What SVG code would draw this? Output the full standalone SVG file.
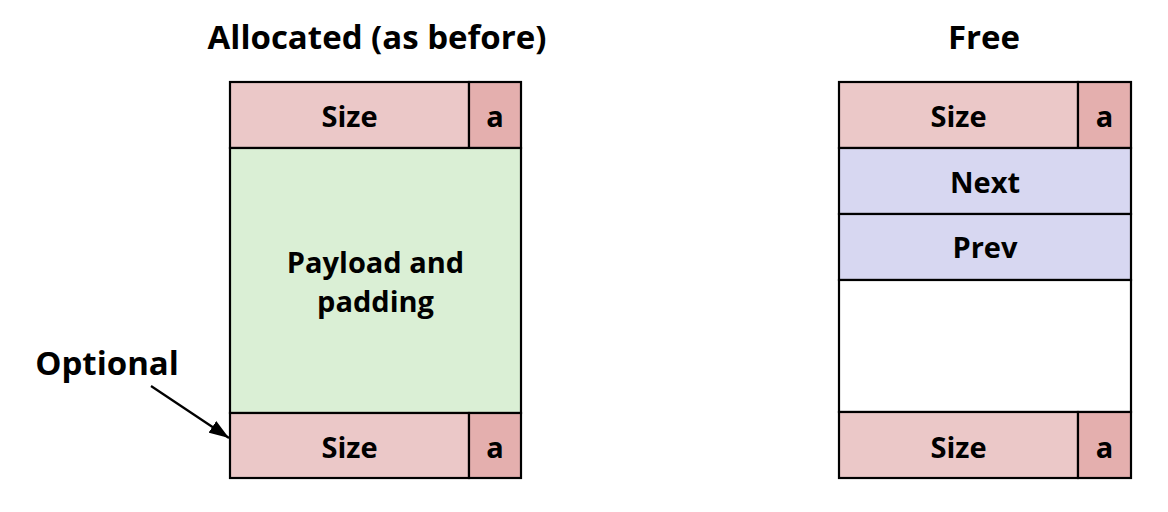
<svg xmlns="http://www.w3.org/2000/svg" width="1168" height="512" viewBox="0 0 1168 512">
<defs>
<style>
.t{font-family:"Open Sans","Liberation Sans",sans-serif;font-weight:bold;fill:#000;text-anchor:middle;dominant-baseline:central}
.h{font-size:33px}
.c{font-size:29px}
.b{stroke:#000;stroke-width:2.2}
.sz{fill:#EBC8C8}
.ab{fill:#E4AFAE}
.pl{fill:#DAEFD5}
.nx{fill:#D7D7F1}
.wh{fill:#FFFFFF}
</style>
<marker id="ah2" viewBox="0 0 20 14" refX="20" refY="7" markerWidth="20" markerHeight="14" markerUnits="userSpaceOnUse" orient="auto">
<path d="M0,0 L20,7 L0,14 z" fill="#000"/>
</marker>
</defs>
<rect width="1168" height="512" fill="#fff"/>
<g id="title-allocated"><text class="t h" x="377" y="36">Allocated (as before)</text></g>
<g id="title-free"><text class="t h" x="984" y="36">Free</text></g>
<g id="label-optional"><text class="t h" x="107" y="362">Optional</text></g>
<g id="alloc-header">
<rect class="b sz" x="230" y="82" width="239" height="66"/>
<rect class="b ab" x="469" y="82" width="52" height="66"/>
<text class="t c" x="349.5" y="115">Size</text>
<text class="t c" x="495" y="115">a</text>
</g>
<g id="alloc-payload">
<rect class="b pl" x="230" y="148" width="291" height="265"/>
<text class="t c" x="375.5" y="261">Payload and</text>
<text class="t c" x="375.5" y="300">padding</text>
</g>
<g id="alloc-footer">
<rect class="b sz" x="230" y="413" width="239" height="65"/>
<rect class="b ab" x="469" y="413" width="52" height="65"/>
<text class="t c" x="349.5" y="446">Size</text>
<text class="t c" x="495" y="446">a</text>
</g>
<g id="free-header">
<rect class="b sz" x="839" y="82" width="239" height="66"/>
<rect class="b ab" x="1078" y="82" width="53" height="66"/>
<text class="t c" x="958.5" y="115">Size</text>
<text class="t c" x="1104.5" y="115">a</text>
</g>
<g id="free-next">
<rect class="b nx" x="839" y="148" width="292" height="66"/>
<text class="t c" x="985" y="181">Next</text>
</g>
<g id="free-prev">
<rect class="b nx" x="839" y="214" width="292" height="66"/>
<text class="t c" x="985" y="246">Prev</text>
</g>
<g id="free-empty">
<rect class="b wh" x="839" y="280" width="292" height="132"/>
</g>
<g id="free-footer">
<rect class="b sz" x="839" y="412" width="239" height="66"/>
<rect class="b ab" x="1078" y="412" width="53" height="66"/>
<text class="t c" x="958.5" y="446">Size</text>
<text class="t c" x="1104.5" y="446">a</text>
</g>
<g id="connectors">
<line x1="151" y1="386" x2="229" y2="438" stroke="#000" stroke-width="2.2" marker-end="url(#ah2)"/>
</g>
</svg>
